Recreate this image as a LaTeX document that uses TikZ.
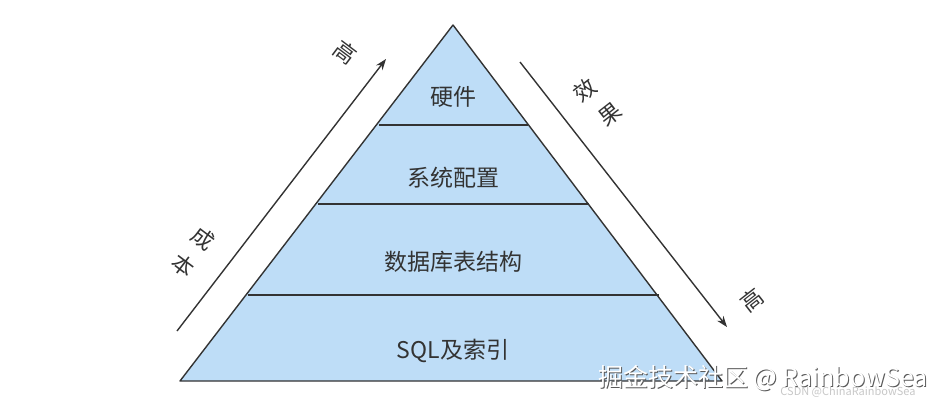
\documentclass[tikz,border=0pt]{standalone}
\usepackage{fontspec}
\setmainfont{Noto Sans CJK SC}
\usetikzlibrary{arrows.meta}
\definecolor{pyfill}{HTML}{BEDDF7}
\definecolor{pyline}{HTML}{333333}
\tikzset{
  lvl/.style={font=\fontsize{23}{26}\selectfont, text=pyline},
  side/.style={font=\fontsize{22}{24}\selectfont, text=pyline, inner sep=0pt},
  arr/.style={draw=pyline, line width=1.4pt, -{Stealth[length=11pt,width=8pt]}},
}
\begin{document}
\begin{tikzpicture}[x=1pt,y=-1pt]
\useasboundingbox (0,0) rectangle (943,407);
\coordinate (A) at (453,25);
\coordinate (BL) at (180,381);
\coordinate (BR) at (722,381);
\filldraw[fill=pyfill, draw=pyline, line width=1.4pt, line join=round] (A) -- (BL) -- (BR) -- cycle;
\coordinate (l1a) at (379,125); \coordinate (l1b) at (528,125);
\coordinate (l2a) at (318,204); \coordinate (l2b) at (589,204);
\coordinate (l3a) at (248,295); \coordinate (l3b) at (659,295);
\draw[pyline, line width=1.4pt] (l1a) -- (l1b) (l2a) -- (l2b) (l3a) -- (l3b);
\node[lvl] (t1) at (453,97) {硬件};
\node[lvl] (t2) at (453,178) {系统配置};
\node[lvl] (t3) at (453,262) {数据库表结构};
\node[lvl] (t4) at (453,351) {SQL及索引};
\coordinate (la) at (177,331); \coordinate (lb) at (386,59);
\draw[arr] (la) -- (lb);
\coordinate (ra) at (520,62); \coordinate (rb) at (727,327);
\draw[arr] (ra) -- (rb);
\node[side, rotate=-37] (hi1) at (345,52) {高};
\node[side, rotate=-37] (cb1) at (203,239) {成};
\node[side, rotate=-37] (cb2) at (183,265) {本};
\node[side, rotate=38] (xg1) at (585,90) {效};
\node[side, rotate=38] (xg2) at (610,115) {果};
\node[side, rotate=38] (hi2) at (752,300) {高};
\node[font=\fontsize{11}{13}\selectfont, text=black!22] (csdn) at (848,392) {CSDN @ChinaRainbowSea};
\node[font=\fontsize{25}{28}\selectfont, text=black!65] (wm0) at (764,379) {掘金技术社区 @ RainbowSea};
\node[font=\fontsize{25}{28}\selectfont, text=white] (wm) at (763,378) {掘金技术社区 @ RainbowSea};
\end{tikzpicture}
\end{document}
